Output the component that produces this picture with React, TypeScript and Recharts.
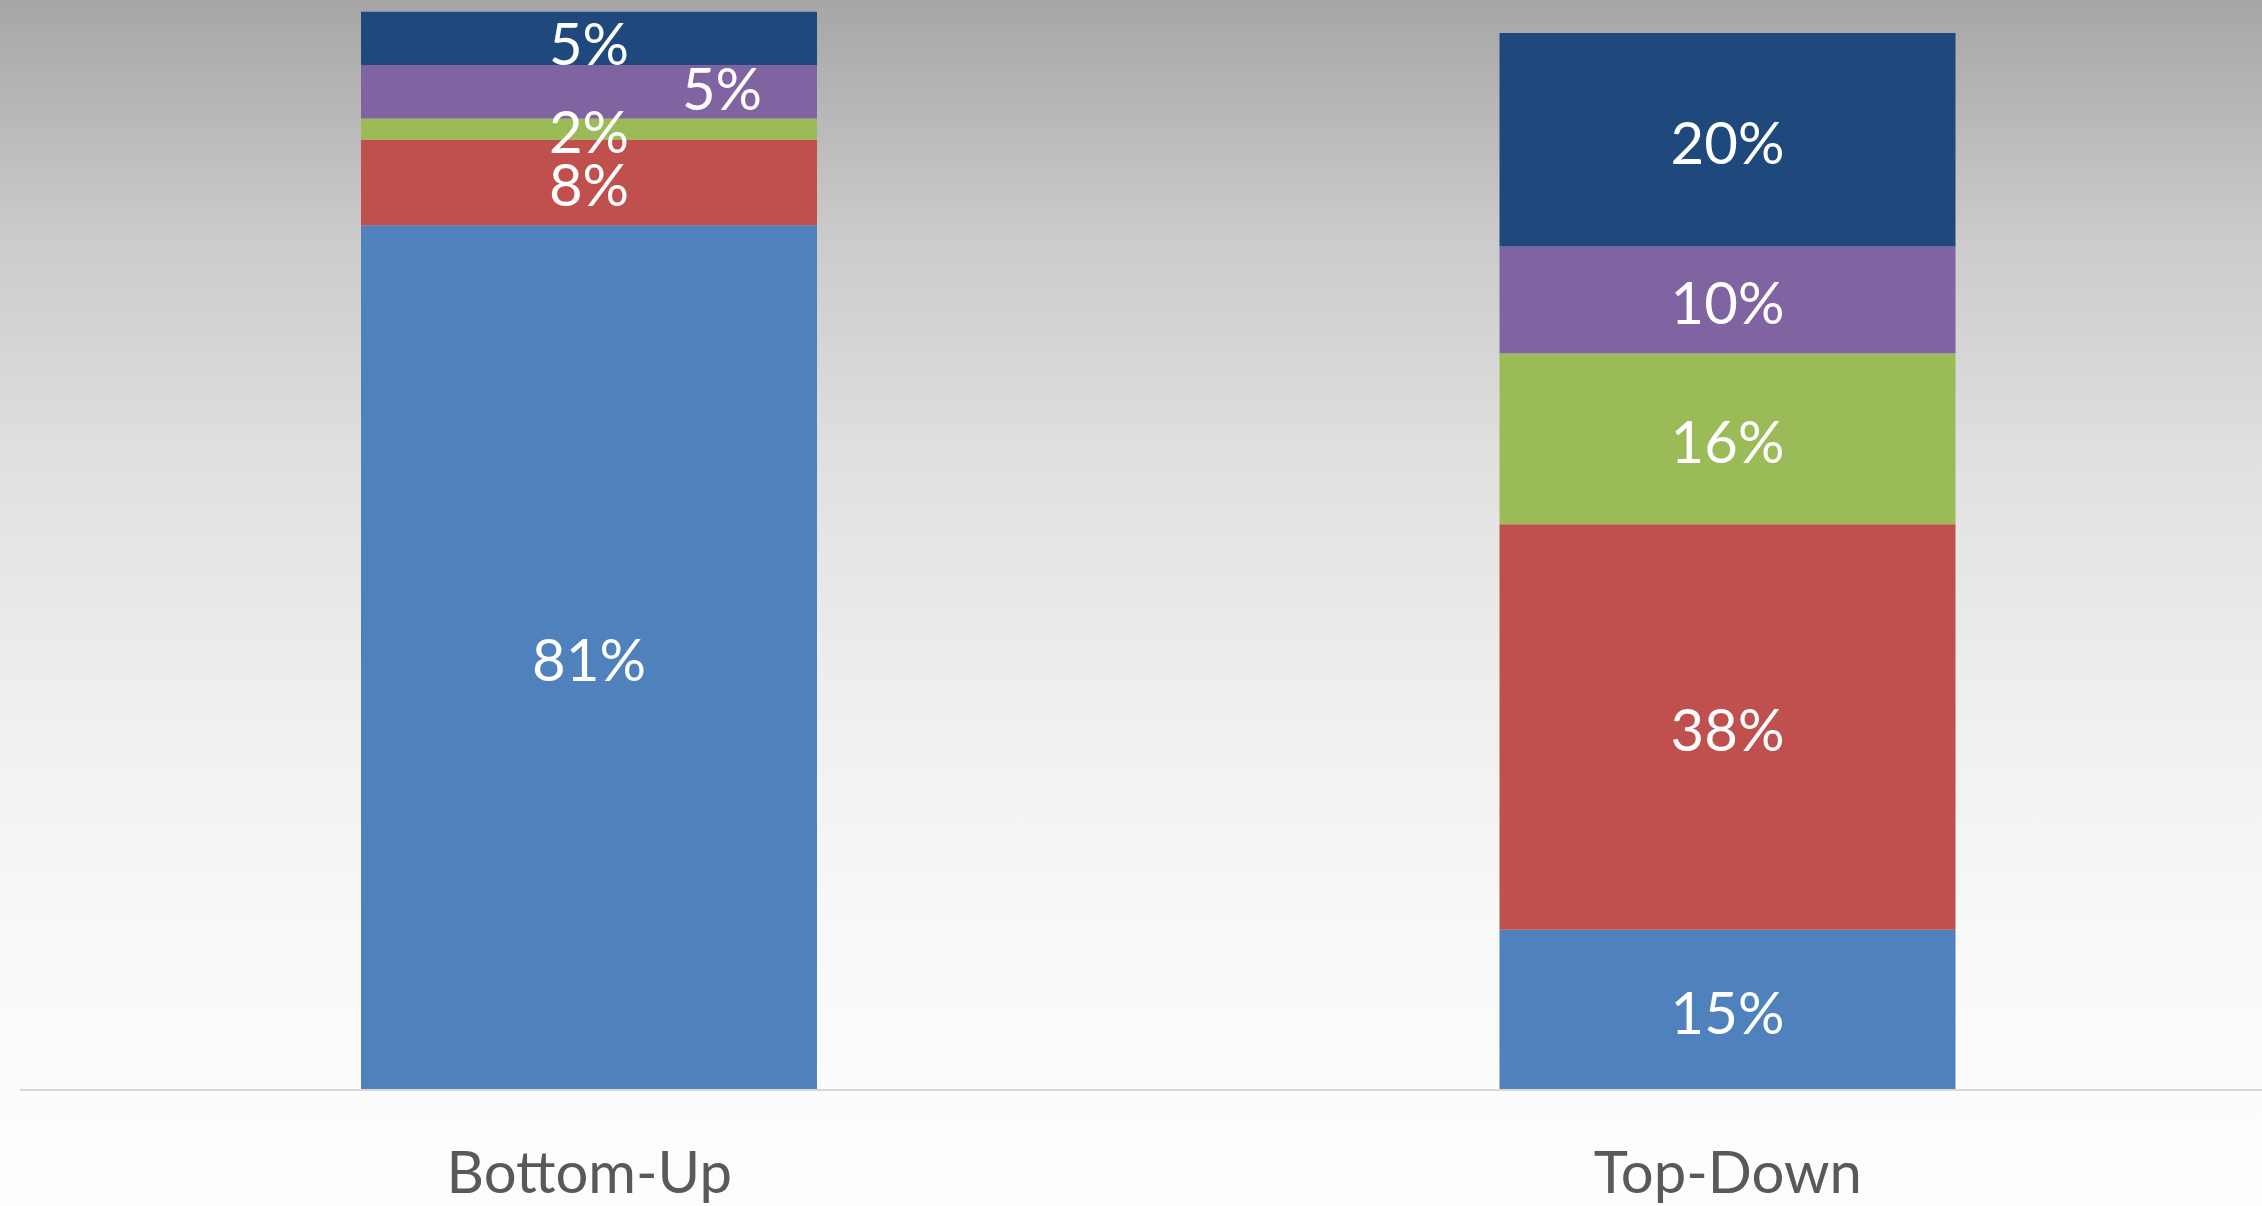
import { BarChart, Bar, XAxis, YAxis, LabelList } from "recharts";

// categories and stacked series values (percent), bottom to top
const categories = ["Bottom-Up", "Top-Down"];
const series1 = [81, 15];
const series2 = [8, 38];
const series3 = [2, 16];
const series4 = [5, 10];
const series5 = [5, 20];
const labels1 = ["81%", "15%"];
const labels2 = ["8%", "38%"];
const labels3 = ["2%", "16%"];
const labels4 = ["5%", "10%"];
const labels5 = ["5%", "20%"];

const seriesKeys = ["s1", "s2", "s3", "s4", "s5"];
const seriesColors = ["#4F81BD", "#C0504D", "#9BBB59", "#8064A2", "#1F497D"];
const seriesLabels = [labels1, labels2, labels3, labels4, labels5];

const data = categories.map((name, i) => ({
  name,
  s1: series1[i],
  s2: series2[i],
  s3: series3[i],
  s4: series4[i],
  s5: series5[i],
}));

const FONT = "Lato, 'Open Sans', sans-serif";
const LABEL_SIZE = 58;

// Excel nudged a couple of the crowded labels on the first bar
const nudge = (series: number, index: number) => {
  if (index === 0 && series === 3) return { dx: 133, dy: -6 };
  if (index === 0 && series === 4) return { dx: 0, dy: 3 };
  return { dx: 0, dy: 0 };
};

const makeLabel = (series: number) => (props: any) => {
  const { x, y, width, height, index } = props;
  const { dx, dy } = nudge(series, index);
  return (
    <text
      x={x + width / 2 + dx}
      y={y + height / 2 + LABEL_SIZE * 0.36 + 3 + dy}
      textAnchor="middle"
      fill="#ffffff"
      fontSize={LABEL_SIZE}
      fontFamily={FONT}
    >
      {seriesLabels[series][index]}
    </text>
  );
};

const CategoryTick = (props: any) => {
  const { x, y, payload } = props;
  return (
    <text
      x={x}
      y={y + 103}
      textAnchor="middle"
      fill="#595959"
      fontSize={58}
      fontFamily={FONT}
    >
      {payload.value}
    </text>
  );
};

export default function App() {
  return (
    <div
      style={{
        position: "absolute",
        left: 0,
        top: 0,
        width: 2262,
        height: 1206,
        overflow: "hidden",
        background:
          "linear-gradient(to bottom, #a6a6a6 0%, #cacaca 19%, #e0e0e0 38%, #eeeeee 57%, #f8f8f8 76%, #fcfcfc 90%, #fdfdfd 100%)",
      }}
    >
      <BarChart
        width={2297}
        height={1206}
        data={data}
        margin={{ top: 1, right: 0, bottom: 0, left: 20 }}
        barSize={456}
      >
        <XAxis
          dataKey="name"
          height={116}
          tickLine={false}
          tickSize={0}
          tickMargin={0}
          axisLine={{ stroke: "#d9d9d9", strokeWidth: 2 }}
          tick={<CategoryTick />}
          interval={0}
        />
        <YAxis hide domain={[0, 102]} type="number" />
        {seriesKeys.map((key, i) => (
          <Bar
            key={key}
            dataKey={key}
            stackId="a"
            fill={seriesColors[i]}
            isAnimationActive={false}
          >
            <LabelList dataKey={key} content={makeLabel(i)} />
          </Bar>
        ))}
      </BarChart>
    </div>
  );
}
